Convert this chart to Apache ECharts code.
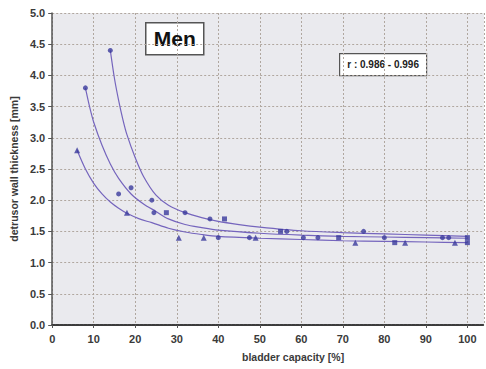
<!DOCTYPE html>
<html>
<head>
<meta charset="utf-8">
<script src="https://cdn.jsdelivr.net/npm/echarts@6/dist/echarts.min.js"></script>
<style>
  html, body { margin: 0; padding: 0; background: #ffffff; }
  #chart { width: 486px; height: 369px; }
</style>
</head>
<body>
<div id="chart"></div>
<script>
// Axis ticks
const xTicks = [0, 10, 20, 30, 40, 50, 60, 70, 80, 90, 100];
const yTicks = [0.0, 0.5, 1.0, 1.5, 2.0, 2.5, 3.0, 3.5, 4.0, 4.5, 5.0];

// Measured points: [bladder capacity %, wall thickness mm]
const circlePoints = [
  [14, 4.4], [8, 3.8], [16, 2.1], [19, 2.2], [24, 2.0], [24.5, 1.8], [32, 1.8],
  [38, 1.7], [40, 1.4], [47.5, 1.4], [56.5, 1.5], [60.5, 1.4], [64, 1.4],
  [75, 1.5], [80, 1.4], [94, 1.4], [95.5, 1.4]
];
const trianglePoints = [
  [6, 2.8], [18, 1.8], [30.5, 1.4], [36.5, 1.4], [49, 1.4], [73, 1.32],
  [85, 1.32], [97, 1.32]
];
const squarePoints = [
  [27.5, 1.8], [41.5, 1.7], [55, 1.5], [69, 1.4], [82.5, 1.32], [100, 1.4], [100, 1.32]
];

// Regression curves
const curveUpper = [
  [14, 4.4], [15, 3.95], [16, 3.6], [17, 3.3], [18, 3.05], [20, 2.68], [22, 2.38],
  [25, 2.08], [28, 1.92], [32, 1.8], [36, 1.72], [40, 1.66], [45, 1.61], [50, 1.57],
  [60, 1.51], [70, 1.48], [80, 1.46], [90, 1.44], [100, 1.42]
];
const curveMiddle = [
  [8, 3.8], [9, 3.5], [10, 3.25], [12, 2.88], [14, 2.58], [16, 2.35], [19, 2.1],
  [22, 1.94], [25, 1.82], [28, 1.7], [32, 1.61], [36, 1.56], [40, 1.52], [50, 1.47],
  [60, 1.44], [70, 1.42], [80, 1.41], [90, 1.40], [100, 1.39]
];
const curveLower = [
  [6, 2.8], [8, 2.5], [10, 2.27], [12, 2.1], [14, 1.97], [16, 1.87], [18, 1.79],
  [21, 1.7], [24, 1.64], [28, 1.55], [32, 1.49], [36, 1.45], [40, 1.42], [50, 1.39],
  [60, 1.37], [70, 1.35], [80, 1.34], [90, 1.33], [100, 1.32]
];

const markColor = '#3a3a9c';
const lineColor = '#7565bd';
const gridColor = '#b0a79f';
const labelFont = { color: '#3a3a3a', fontSize: 11, fontWeight: 'bold', fontFamily: 'Liberation Sans, Arial, sans-serif' };

const chart = echarts.init(document.getElementById('chart'), null, { renderer: 'svg' });

function curveSeries(data) {
  return {
    type: 'line', data: data, smooth: 0.3, showSymbol: false, symbol: 'none',
    lineStyle: { color: lineColor, width: 1.2 }, z: 2, silent: true
  };
}
function markSeries(data, symbol, size) {
  return {
    type: 'scatter', data: data, symbol: symbol, symbolSize: size,
    itemStyle: { color: markColor }, z: 3, silent: true
  };
}

chart.setOption({
  animation: false,
  backgroundColor: '#ffffff',
  grid: {
    left: 52, right: 2, top: 13, bottom: 44,
    show: true, backgroundColor: '#eaeaee', borderWidth: 0
  },
  xAxis: {
    type: 'value', min: 0, max: 104, interval: 10,
    name: 'bladder capacity [%]', nameLocation: 'middle', nameGap: 26,
    nameTextStyle: Object.assign({}, labelFont, { fontSize: 10.5, padding: [0, 0, 0, 50] }),
    axisLine: { show: true, onZero: false, lineStyle: { color: '#3c3c3c', width: 2, type: [3, 1] } },
    axisTick: { show: true, length: 3, lineStyle: { color: '#555' } },
    axisLabel: Object.assign({}, labelFont, {
      margin: 8, showMaxLabel: false,
      formatter: v => (xTicks.indexOf(v) >= 0 ? String(v) : '')
    }),
    splitLine: { show: true, lineStyle: { color: gridColor, type: [2, 2], width: 1 } }
  },
  yAxis: {
    type: 'value', min: 0, max: 5, interval: 0.5,
    name: 'detrusor wall thickness [mm]', nameLocation: 'middle', nameGap: 30,
    nameTextStyle: Object.assign({}, labelFont, { fontSize: 10.5 }),
    axisLine: { show: true, lineStyle: { color: '#555555', width: 1.5 } },
    axisTick: { show: true, length: 4, lineStyle: { color: '#555' } },
    axisLabel: Object.assign({}, labelFont, {
      margin: 7,
      formatter: v => {
        const t = yTicks.find(k => Math.abs(k - v) < 1e-6);
        return t === undefined ? '' : t.toFixed(1);
      }
    }),
    splitLine: { show: true, lineStyle: { color: gridColor, type: [2, 2], width: 1 } }
  },
  graphic: [
    {
      type: 'group', left: 145, top: 22,
      children: [
        { type: 'rect', shape: { x: 0, y: 0, width: 58, height: 32 },
          style: { fill: '#ffffff', stroke: '#555555', lineWidth: 1.5 } },
        { type: 'text', style: { x: 29, y: 16, text: 'Men', textAlign: 'center', textVerticalAlign: 'middle',
          font: 'bold 21px "Liberation Sans", Arial, sans-serif', fill: '#111111' } }
      ]
    },
    {
      type: 'group', left: 339, top: 53,
      children: [
        { type: 'rect', shape: { x: 0, y: 0, width: 87, height: 22 },
          style: { fill: '#ffffff', stroke: '#555555', lineWidth: 1.2 } },
        { type: 'text', style: { x: 43.5, y: 11, text: 'r : 0.986 - 0.996', textAlign: 'center', textVerticalAlign: 'middle',
          font: 'bold 10px "Liberation Sans", Arial, sans-serif', fill: '#222222' } }
      ]
    }
  ],
  series: [
    curveSeries(curveUpper),
    curveSeries(curveMiddle),
    curveSeries(curveLower),
    markSeries(circlePoints, 'circle', 5),
    markSeries(trianglePoints, 'triangle', 6),
    markSeries(squarePoints, 'rect', 5)
  ]
});
</script>
</body>
</html>
